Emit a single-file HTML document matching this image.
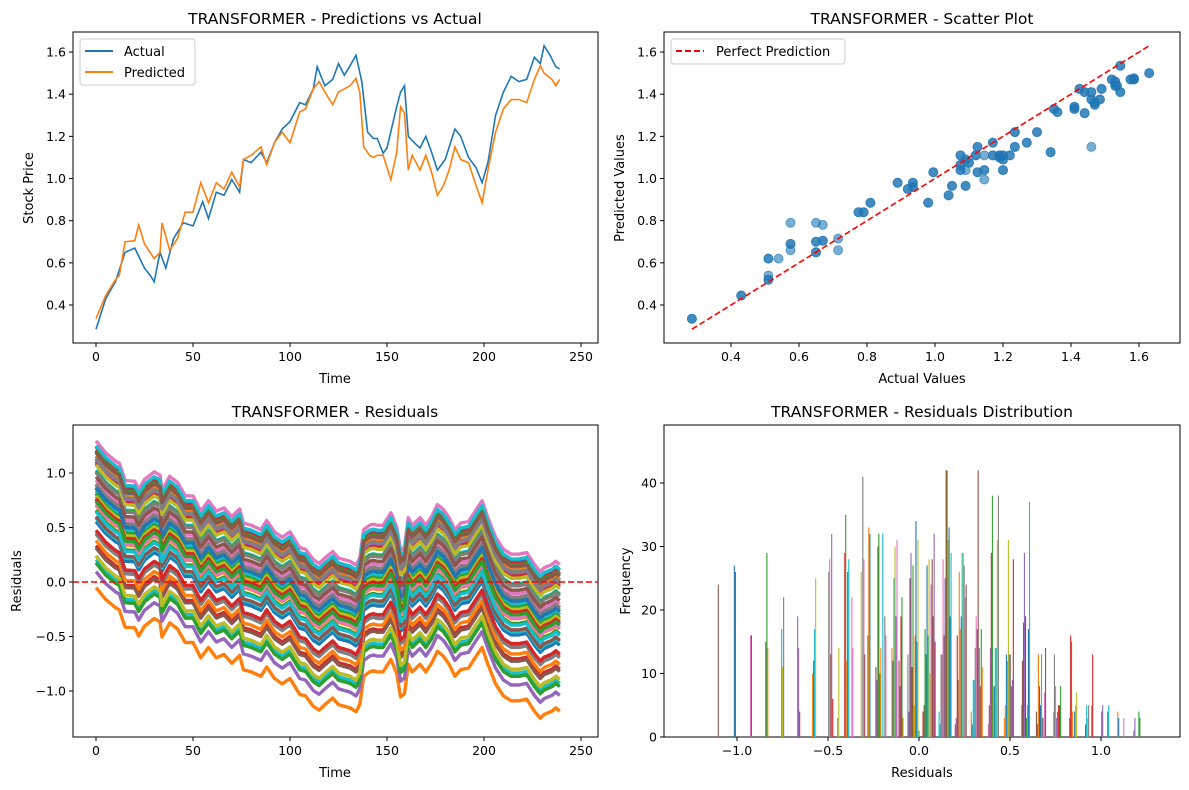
<!DOCTYPE html>
<html><head><meta charset="utf-8">
<style>
html,body{margin:0;padding:0;background:#fff;}
svg{display:block;font-family:"DejaVu Sans","Liberation Sans",sans-serif;}
</style></head>
<body>
<svg id="fig" width="1189" height="790" viewBox="0 0 1189 790" xmlns="http://www.w3.org/2000/svg"></svg>
<script>
// ---- data: actual series ----
const actualT = [0,5,10,15,20,25,28,30,33,36,40,45,50,55,58,62,66,70,74,76,80,85,88,92,96,100,105,108,112,114,118,122,125,128,131,134,137,140,143,145,148,150,155,157,159,161,164,167,170,173,176,180,185,188,192,196,199,202,206,210,214,218,222,226,229,231,234,237,239];
const actualV = [0.285,0.43,0.51,0.65,0.67,0.575,0.54,0.51,0.65,0.575,0.715,0.79,0.775,0.89,0.81,0.935,0.92,0.995,0.935,1.09,1.075,1.125,1.075,1.17,1.235,1.27,1.36,1.35,1.425,1.53,1.44,1.47,1.545,1.49,1.535,1.585,1.46,1.22,1.19,1.19,1.12,1.145,1.34,1.41,1.44,1.20,1.17,1.145,1.20,1.125,1.04,1.09,1.235,1.20,1.10,1.05,0.98,1.075,1.30,1.41,1.485,1.46,1.47,1.575,1.545,1.63,1.585,1.53,1.52];
// ---- data: predicted series ----
const predT = [0,5,10,12,15,20,22,25,30,33,34,38,42,46,50,54,58,62,66,70,74,76,80,85,88,92,96,100,105,108,112,115,118,122,125,128,131,134,136,138,141,143,145,148,152,155,157,159,161,163,167,170,173,176,179,182,185,188,192,196,199,202,206,210,214,218,222,226,229,231,235,237,239];
const predV = [0.335,0.445,0.52,0.54,0.70,0.705,0.78,0.69,0.62,0.65,0.79,0.66,0.715,0.84,0.84,0.98,0.885,0.98,0.95,1.03,0.96,1.09,1.11,1.15,1.065,1.17,1.22,1.17,1.315,1.33,1.425,1.46,1.41,1.35,1.41,1.425,1.44,1.475,1.41,1.15,1.11,1.10,1.11,1.11,0.995,1.125,1.34,1.31,1.04,1.11,1.04,1.11,1.03,0.92,0.965,1.04,1.15,1.09,1.075,0.965,0.885,1.04,1.22,1.33,1.375,1.375,1.36,1.47,1.535,1.50,1.47,1.44,1.47];
// ---- data: histogram bars (residual position, frequency, colour index) ----
const histX = [-1.103,-1.015,-1.009,-0.926,-0.921,-0.842,-0.836,-0.831,-0.755,-0.750,-0.744,-0.667,-0.662,-0.656,-0.585,-0.579,-0.574,-0.568,-0.496,-0.491,-0.485,-0.480,-0.474,-0.447,-0.441,-0.408,-0.403,-0.397,-0.392,-0.386,-0.369,-0.364,-0.318,-0.309,-0.303,-0.298,-0.281,-0.276,-0.270,-0.237,-0.232,-0.226,-0.221,-0.215,-0.210,-0.199,-0.188,-0.182,-0.149,-0.143,-0.138,-0.132,-0.127,-0.121,-0.110,-0.105,-0.099,-0.094,-0.088,-0.061,-0.055,-0.050,-0.044,-0.039,-0.033,-0.028,-0.022,-0.017,-0.011,-0.006,0.000,0.022,0.028,0.033,0.039,0.044,0.050,0.055,0.061,0.066,0.072,0.077,0.083,0.088,0.110,0.116,0.121,0.127,0.132,0.138,0.143,0.149,0.154,0.160,0.165,0.171,0.176,0.199,0.204,0.210,0.215,0.221,0.226,0.232,0.237,0.243,0.248,0.254,0.259,0.287,0.292,0.298,0.303,0.309,0.314,0.320,0.325,0.331,0.336,0.342,0.347,0.381,0.386,0.392,0.397,0.403,0.408,0.414,0.419,0.425,0.430,0.436,0.469,0.474,0.480,0.485,0.491,0.496,0.502,0.507,0.513,0.518,0.563,0.568,0.574,0.579,0.585,0.590,0.596,0.601,0.607,0.645,0.651,0.656,0.662,0.667,0.673,0.678,0.684,0.689,0.695,0.739,0.744,0.750,0.756,0.761,0.767,0.772,0.778,0.827,0.833,0.838,0.844,0.855,0.860,0.866,0.915,0.921,0.926,0.932,0.949,0.954,1.004,1.009,1.037,1.042,1.092,1.097,1.125,1.180,1.186,1.208,1.213];
const histF = [24,27,26,16,16,15,29,14,17,11,22,19,14,4,10,12,17,25,26,28,13,32,6,3,14,29,35,12,26,28,22,14,26,41,28,13,16,33,32,11,9,30,32,10,14,32,19,16,14,12,25,30,19,31,12,8,19,22,3,13,4,25,29,11,27,5,16,34,15,31,1,4,5,17,13,27,16,28,10,24,28,19,32,15,4,2,13,13,28,16,25,42,42,31,33,19,29,2,3,16,9,26,17,19,29,29,27,22,24,4,2,9,9,14,19,17,42,14,8,17,11,2,5,14,29,38,8,8,14,14,31,38,3,5,13,12,31,13,13,8,9,28,5,12,18,29,19,3,5,17,37,4,2,13,8,5,13,3,3,7,14,4,13,8,3,4,5,5,8,3,16,15,4,4,5,7,2,5,3,5,5,13,4,5,4,5,4,3,3,1,3,4,3];
const histC = [5,0,0,6,5,5,2,1,9,8,7,4,4,3,1,0,9,8,7,6,5,4,3,9,8,3,2,1,0,9,6,6,8,7,6,5,2,1,0,5,4,5,2,2,1,9,7,6,1,0,9,8,4,6,5,4,3,2,1,7,4,5,4,3,2,8,1,0,9,8,9,3,5,2,2,0,9,8,8,6,5,5,4,3,9,9,7,7,6,5,4,3,2,8,0,0,9,5,4,3,5,1,1,0,9,8,7,6,5,1,0,9,9,7,6,5,5,4,3,2,1,6,5,4,3,2,1,0,9,9,8,7,1,1,0,9,8,7,7,5,4,3,6,5,5,4,3,2,1,0,9,5,2,1,0,0,9,7,8,6,5,8,7,6,4,4,3,3,2,4,3,2,1,0,8,8,0,9,8,7,4,3,5,4,0,9,1,0,6,7,4,2,2];
// ---- tick labels ----
const tlXTicks = [0,50,100,150,200,250];
const tlYTicks = [0.4,0.6,0.8,1.0,1.2,1.4,1.6];
const trXTicks = [0.4,0.6,0.8,1.0,1.2,1.4,1.6];
const trYTicks = [0.4,0.6,0.8,1.0,1.2,1.4,1.6];
const blYTicks = [-1.0,-0.5,0.0,0.5,1.0];
const brXTicks = [-1.0,-0.5,0.0,0.5,1.0];
const brYTicks = [0,10,20,30,40];

const TAB = ['#1f77b4','#ff7f0e','#2ca02c','#d62728','#9467bd','#8c564b','#e377c2','#7f7f7f','#bcbd22','#17becf'];
const NS = 'http://www.w3.org/2000/svg';
const svg = document.getElementById('fig');
function mk(tag, attrs, parent){
  const e = document.createElementNS(NS, tag);
  for (const k in attrs) e.setAttribute(k, attrs[k]);
  (parent||svg).appendChild(e);
  return e;
}
function txt(s, attrs, parent){ const e = mk('text', attrs, parent); e.textContent = s; return e; }

const tlX = t => 96 + (t)*1.94;
const tlY = v => 305 - (v-0.4)*210.8;
const trX = v => 731 + (v-0.4)*340;
const trY = v => 305 - (v-0.4)*210.8;
const blX = tlX;
const blY = v => 582 - v*109;
const brX = v => 919 + v*182;
const brY = f => 737 - f*6.35;

function nearest(ts, vs, t){
  let best = 0;
  for (let i=0;i<ts.length;i++) if (Math.abs(ts[i]-t) < Math.abs(ts[best]-t)) best = i;
  return vs[best];
}

function frame(name, x0,y0,x1,y1){
  const g = mk('g', {});
  
  
  const r = mk('rect', {x:x0,y:y0,width:x1-x0,height:y1-y0,fill:'none',stroke:'#000','stroke-width':1}, g);
  
  
  return g;
}
function xTicks(g, ticks, fx, yb, name, intFmt){
  ticks.forEach(v => {
    const x = fx(v);
    mk('line', {x1:x,x2:x,y1:yb,y2:yb+4,stroke:'#000'}, g);
    const t = txt((intFmt?String(v):v.toFixed(1)).replace('-', '\u2212'), {x:x,y:yb+18,'font-size':12.5,'text-anchor':'middle',fill:'#000'}, g);
    
    
  });
}
function yTicks(g, ticks, fy, xl, name, intFmt){
  ticks.forEach(v => {
    const y = fy(v);
    mk('line', {x1:xl-4,x2:xl,y1:y,y2:y,stroke:'#000'}, g);
    const t = txt((intFmt?String(v):v.toFixed(1)).replace('-', '\u2212'), {x:xl-7,y:y+4.5,'font-size':12.5,'text-anchor':'end',fill:'#000'}, g);
    
    
  });
}
function title(g, s, cx, y){
  const t = txt(s, {x:cx,y:y,'font-size':15.5,'text-anchor':'middle',fill:'#000'}, g);
  
  
}
function label(g, s, x, y, rot, name){
  const a = {x:x,y:y,'font-size':13,'text-anchor':'middle',fill:'#000'};
  if (rot) a.transform = 'rotate(-90 '+x+' '+y+')';
  const t = txt(s, a, g);
  
  
}
function poly(xs, ys, fx, fy){
  return xs.map((x,i)=> fx(x).toFixed(1)+','+fy(ys[i]).toFixed(1)).join(' ');
}

// ===== Panel 1 =====
{
  const g = frame('predictions-panel', 73,32,598,343);
  const a = mk('polyline', {points:poly(actualT, actualV, tlX, tlY), fill:'none', stroke:TAB[0], 'stroke-width':1.6}, g);
  
  
  const p = mk('polyline', {points:poly(predT, predV, tlX, tlY), fill:'none', stroke:TAB[1], 'stroke-width':1.6}, g);
  
  
  xTicks(g, tlXTicks, tlX, 343, 'x-tick-label', true);
  yTicks(g, tlYTicks, tlY, 73, 'y-tick-label');
  title(g, 'TRANSFORMER - Predictions vs Actual', 335, 24);
  label(g, 'Time', 335, 383, false, 'x-axis-title');
  label(g, 'Stock Price', 33, 188, true, 'y-axis-title');
  const lg = mk('g', {}, g);
  
  
  mk('rect', {x:80,y:39,width:115,height:46,rx:3,fill:'#fff',stroke:'#ccc'}, lg);
  mk('line', {x1:85,x2:113,y1:51,y2:51,stroke:TAB[0],'stroke-width':2}, lg);
  const l1 = txt('Actual', {x:124,y:56,'font-size':13}, lg);
  
  
  mk('line', {x1:85,x2:113,y1:72,y2:72,stroke:TAB[1],'stroke-width':2}, lg);
  const l2 = txt('Predicted', {x:124,y:77,'font-size':13}, lg);
  
  
}

// ===== Panel 2 =====
{
  const g = frame('scatter-panel', 664,32,1180,343);
  actualT.forEach((t,i) => {
    const c = mk('circle', {cx:trX(actualV[i]), cy:trY(nearest(predT, predV, t)), r:4.5, fill:TAB[0], 'fill-opacity':0.6, stroke:TAB[0], 'stroke-opacity':0.6}, g);
    
    
  });
  predT.forEach((t,i) => {
    const c = mk('circle', {cx:trX(nearest(actualT, actualV, t)), cy:trY(predV[i]), r:4.5, fill:TAB[0], 'fill-opacity':0.6, stroke:TAB[0], 'stroke-opacity':0.6}, g);
    
    
  });
  const mn = Math.min(...actualV), mx = Math.max(...actualV);
  const pl = mk('line', {x1:trX(mn),y1:trY(mn),x2:trX(mx),y2:trY(mx),stroke:'#ff0000','stroke-width':1.6,'stroke-dasharray':'6,3'}, g);
  
  
  xTicks(g, trXTicks, trX, 343, 'x-tick-label');
  yTicks(g, trYTicks, trY, 664, 'y-tick-label');
  title(g, 'TRANSFORMER - Scatter Plot', 922, 24);
  label(g, 'Actual Values', 922, 383, false, 'x-axis-title');
  label(g, 'Predicted Values', 624, 188, true, 'y-axis-title');
  const lg = mk('g', {}, g);
  
  
  mk('rect', {x:671,y:39,width:174,height:25,rx:3,fill:'#fff',stroke:'#ccc'}, lg);
  mk('line', {x1:676,x2:704,y1:51,y2:51,stroke:'#ff0000','stroke-width':2,'stroke-dasharray':'6,3'}, lg);
  const l1 = txt('Perfect Prediction', {x:716,y:56,'font-size':13}, lg);
  
  
}

// ===== Panel 3 =====
{
  const g = frame('residuals-panel', 73,425,598,737);
  const clip = mk('clipPath', {id:'clipRes'});
  mk('rect', {x:73,y:425,width:525,height:312}, clip);
  const lines = mk('g', {'clip-path':'url(#clipRes)'}, g);
  actualV.forEach((av, j) => {
    const ys = predV.map(pv => av - pv);
    const pl = mk('polyline', {points:poly(predT, ys, blX, blY), fill:'none', stroke:TAB[(j*3+1)%10], 'stroke-width':3.4, 'stroke-linejoin':'round'}, lines);
    
    
  });
  const z = mk('line', {x1:73,x2:598,y1:blY(0),y2:blY(0),stroke:'#ff0000','stroke-width':1.6,'stroke-dasharray':'6,3'}, g);
  
  
  xTicks(g, tlXTicks, blX, 737, 'x-tick-label', true);
  yTicks(g, blYTicks, blY, 73, 'y-tick-label');
  title(g, 'TRANSFORMER - Residuals', 335, 417);
  label(g, 'Time', 335, 777, false, 'x-axis-title');
  label(g, 'Residuals', 21, 581, true, 'y-axis-title');
}

// ===== Panel 4 =====
{
  const g = frame('histogram-panel', 664,425,1180,737);
  histX.forEach((v,i) => {
    const r = mk('rect', {x:brX(v)-0.5, y:brY(histF[i]), width:1.1, height:histF[i]*6.35, fill:TAB[histC[i]]}, g);
    
    
  });
  xTicks(g, brXTicks, brX, 737, 'x-tick-label');
  yTicks(g, brYTicks, brY, 664, 'y-tick-label', true);
  title(g, 'TRANSFORMER - Residuals Distribution', 922, 417);
  label(g, 'Residuals', 922, 777, false, 'x-axis-title');
  label(g, 'Frequency', 630, 581, true, 'y-axis-title');
}
</script>
</body></html>
